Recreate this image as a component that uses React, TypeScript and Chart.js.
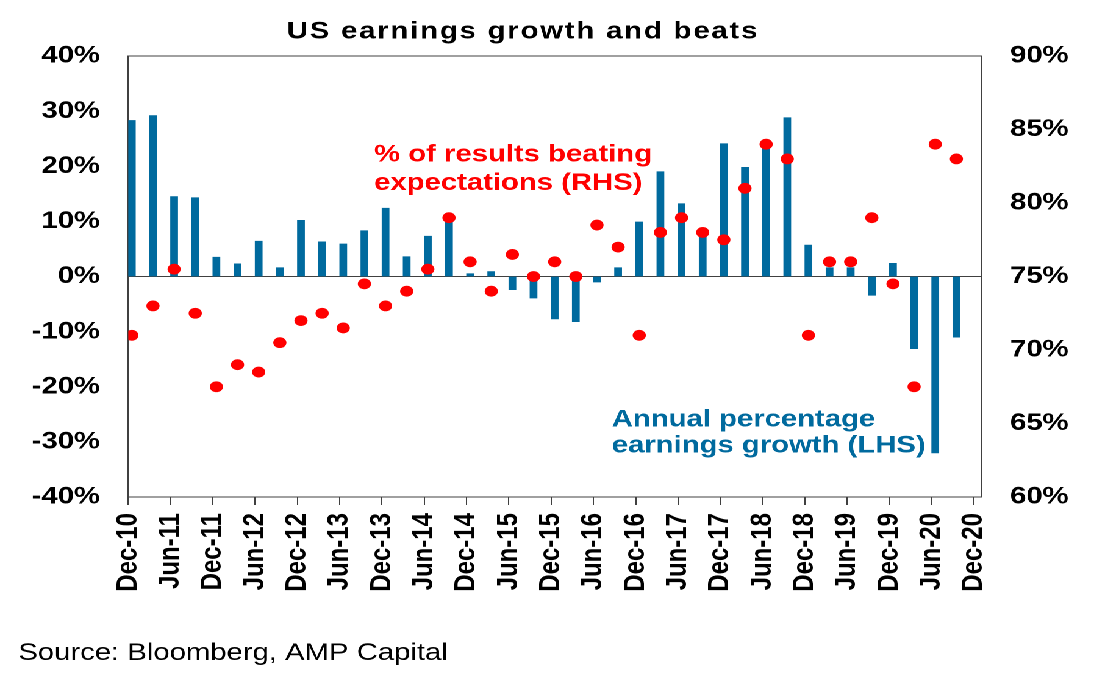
import { useEffect, useRef } from "react";
import { Chart, registerables } from "chart.js";

Chart.register(...registerables);

// quarter ends, Dec-10 .. Sep-20
const quarters = [
  "Dec-10", "Mar-11", "Jun-11", "Sep-11", "Dec-11", "Mar-12", "Jun-12", "Sep-12",
  "Dec-12", "Mar-13", "Jun-13", "Sep-13", "Dec-13", "Mar-14", "Jun-14", "Sep-14",
  "Dec-14", "Mar-15", "Jun-15", "Sep-15", "Dec-15", "Mar-16", "Jun-16", "Sep-16",
  "Dec-16", "Mar-17", "Jun-17", "Sep-17", "Dec-17", "Mar-18", "Jun-18", "Sep-18",
  "Dec-18", "Mar-19", "Jun-19", "Sep-19", "Dec-19", "Mar-20", "Jun-20", "Sep-20",
];

// annual % earnings growth (LHS)
const earningsGrowth = [
  28.3, 29.2, 14.5, 14.3, 3.5, 2.3, 6.4, 1.6,
  10.2, 6.3, 5.9, 8.3, 12.4, 3.6, 7.3, 10.8,
  0.5, 0.9, -2.4, -3.9, -7.7, -8.2, -1.0, 1.6,
  9.9, 19.0, 13.2, 8.5, 24.1, 19.8, 24.5, 28.8,
  5.7, 1.6, 1.6, -3.4, 2.4, -13.1, -32.0, -11.0,
];

// % of results beating expectations (RHS)
const beatRate = [
  71, 73, 75.5, 72.5, 67.5, 69, 68.5, 70.5,
  72, 72.5, 71.5, 74.5, 73, 74, 75.5, 79,
  76, 74, 76.5, 75, 76, 75, 78.5, 77,
  71, 78, 79, 78, 77.5, 81, 84, 83,
  71, 76, 76, 79, 74.5, 67.5, 84, 83,
];

const tickLabels = [
  "Dec-10", "Jun-11", "Dec-11", "Jun-12", "Dec-12", "Jun-13", "Dec-13",
  "Jun-14", "Dec-14", "Jun-15", "Dec-15", "Jun-16", "Dec-16", "Jun-17",
  "Dec-17", "Jun-18", "Dec-18", "Jun-19", "Dec-19", "Jun-20", "Dec-20",
];

const BLUE = "#006a9e";
const RED = "#ff0000";
const AXIS = "#404040";
const FONT = "'Liberation Sans', Arial, Helvetica, sans-serif";

// the picture is stretched sideways, so draw narrower and widen with css
const PAGE_W = 1105;
const W = 906;
const H = 686;
const STRETCH = PAGE_W / W;

const tickFont = { family: FONT, size: 24, weight: "bold" as const };

const textPlugin = {
  id: "chartText",
  afterDraw(chart: any) {
    const ctx = chart.ctx;
    ctx.save();
    ctx.textAlign = "left";
    ctx.textBaseline = "alphabetic";

    ctx.font = `bold 24px ${FONT}`;
    ctx.fillStyle = "#000";
    ctx.letterSpacing = "1.5px";
    const title = "US earnings growth and beats";
    const tw = ctx.measureText(title).width;
    ctx.fillText(title, 428.8 - tw / 2, 38.3);
    ctx.letterSpacing = "0px";

    ctx.fillStyle = RED;
    ctx.fillText("% of results beating", 306.7, 161.7);
    ctx.fillText("expectations (RHS)", 306.7, 190);

    ctx.fillStyle = BLUE;
    ctx.fillText("Annual percentage", 501.6, 426.5);
    ctx.fillText("earnings growth (LHS)", 501.6, 452.5);

    ctx.font = `24px ${FONT}`;
    ctx.fillStyle = "#000";
    ctx.fillText("Source: Bloomberg, AMP Capital", 15, 660);
    ctx.restore();
  },
};

const App = () => {
  const canvasRef = useRef<HTMLCanvasElement | null>(null);

  useEffect(() => {
    if (!canvasRef.current) return;

    // x is in months from the start of Dec-10; each quarter sits mid-month
    const growthPts = quarters.map((_, i) => ({ x: i * 3 + 0.5, y: earningsGrowth[i] }));
    const beatPts = quarters.map((_, i) => ({ x: i * 3 + 0.5, y: beatRate[i] }));

    const chart = new Chart(canvasRef.current, {
      type: "bar",
      data: {
        datasets: [
          {
            type: "scatter",
            label: "% of results beating expectations (RHS)",
            data: beatPts,
            yAxisID: "y1",
            backgroundColor: RED,
            borderWidth: 0,
            pointRadius: 5.4,
            pointHoverRadius: 5.4,
            order: 0,
          } as any,
          {
            type: "bar",
            label: "Annual percentage earnings growth (LHS)",
            data: growthPts,
            yAxisID: "y",
            backgroundColor: BLUE,
            borderWidth: 0,
            barThickness: 5.7,
            order: 1,
          },
        ],
      },
      options: {
        animation: false,
        responsive: true,
        maintainAspectRatio: false,
        devicePixelRatio: 2,
        layout: { padding: { top: 56, bottom: 79, left: 0, right: 0 } },
        plugins: {
          legend: { display: false },
          tooltip: { enabled: false },
          title: { display: false },
        },
        scales: {
          x: {
            type: "linear",
            position: "bottom",
            min: 0,
            max: 121,
            offset: false,
            afterBuildTicks: (s: any) => {
              s.ticks = tickLabels.map((_, k) => ({ value: k * 6 }));
            },
            afterFit: (s: any) => {
              s.height = 110;
            },
            ticks: {
              callback: (_v: any, i: number) => tickLabels[i],
              autoSkip: false,
              minRotation: 90,
              maxRotation: 90,
              padding: 8,
              color: "#000",
              font: tickFont,
            },
            grid: {
              display: true,
              offset: false,
              drawOnChartArea: false,
              drawTicks: true,
              tickLength: 8,
              color: AXIS,
              lineWidth: 1,
            },
            border: { display: true, color: AXIS, width: 1 },
          },
          y: {
            position: "left",
            min: -40,
            max: 40,
            afterFit: (s: any) => {
              s.width = 105.2;
            },
            ticks: {
              stepSize: 10,
              callback: (v: any) => `${v}%`,
              padding: 23.2,
              color: "#000",
              font: tickFont,
            },
            grid: {
              drawTicks: false,
              lineWidth: 1,
              color: (c: any) =>
                c.tick && (c.tick.value === 0 || c.tick.value === 40) ? AXIS : "rgba(0,0,0,0)",
            },
            border: { display: true, color: AXIS, width: 1 },
          },
          y1: {
            position: "right",
            min: 60,
            max: 90,
            afterFit: (s: any) => {
              s.width = W - 804.4;
            },
            ticks: {
              stepSize: 5,
              callback: (v: any) => `${v}%`,
              padding: 23.7,
              color: "#000",
              font: tickFont,
            },
            grid: { display: false, drawTicks: false },
            border: { display: true, color: AXIS, width: 1 },
          },
        },
      } as any,
      plugins: [textPlugin],
    });

    return () => {
      chart.destroy();
    };
  }, []);

  return (
    <div
      style={{
        position: "absolute",
        left: 0,
        top: 0,
        width: W,
        height: H,
        background: "#fff",
        transform: `scaleX(${STRETCH})`,
        transformOrigin: "0 0",
      }}
    >
      <canvas ref={canvasRef} />
    </div>
  );
};

export default App;
